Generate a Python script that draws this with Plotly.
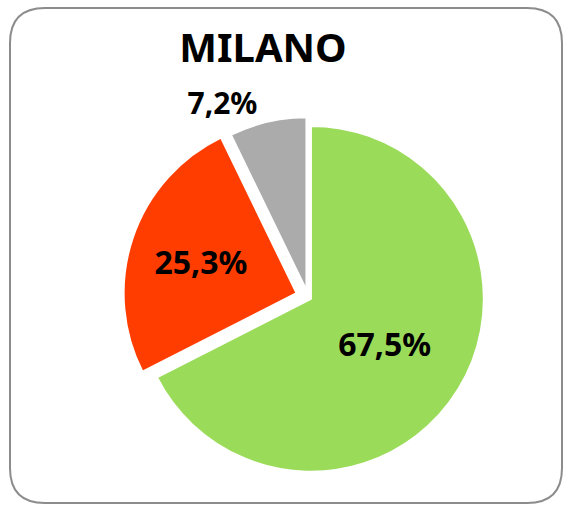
import plotly.graph_objects as go

labels = ["Sì", "No", "Non so"]
values = [67.5, 25.3, 7.2]
colors = ["#9BDB5A", "#FF3D00", "#ABABAB"]
pulls = [0.02, 0.07, 0.04]
text_positions = ["inside", "inside", "outside"]
title_text = "MILANO"

W, H = 564, 505

cx, cy, half = 308, 297, 185
fig = go.Figure(go.Pie(
    labels=labels,
    values=values,
    sort=False,
    direction="clockwise",
    rotation=0,
    pull=pulls,
    marker=dict(colors=colors, line=dict(color="white", width=2)),
    texttemplate="%{percent:.1%}",
    textposition=text_positions,
    insidetextorientation="horizontal",
    textfont=dict(family="Noto Sans", size=32, color="black", weight="bold"),
    outsidetextfont=dict(family="Noto Sans", size=30, color="black", weight="bold"),
    showlegend=False,
    hoverinfo="label+percent",
    domain=dict(x=[(cx - half) / W, (cx + half) / W],
                y=[(H - cy - half) / H, (H - cy + half) / H]),
))

# rounded frame around the chart
x0, x1, y0, y1, r = 10, 562, 8, 503, 35
def px(x):
    return x / W
def py(y):
    return (H - y) / H
path = (
    f"M {px(x0 + r)},{py(y0)} L {px(x1 - r)},{py(y0)} "
    f"Q {px(x1)},{py(y0)} {px(x1)},{py(y0 + r)} "
    f"L {px(x1)},{py(y1 - r)} Q {px(x1)},{py(y1)} {px(x1 - r)},{py(y1)} "
    f"L {px(x0 + r)},{py(y1)} Q {px(x0)},{py(y1)} {px(x0)},{py(y1 - r)} "
    f"L {px(x0)},{py(y0 + r)} Q {px(x0)},{py(y0)} {px(x0 + r)},{py(y0)} Z"
)

fig.update_layout(
    width=W, height=H,
    margin=dict(l=0, r=0, t=0, b=0),
    paper_bgcolor="white",
    plot_bgcolor="white",
    separators=",.",
    title=dict(
        text=title_text,
        x=263 / W, xanchor="center",
        y=1 - 48 / H, yanchor="middle",
        font=dict(family="Noto Sans", size=40, color="black", weight="bold"),
    ),
    shapes=[dict(type="path", path=path, xref="paper", yref="paper",
                 line=dict(color="#8C8C8C", width=2), layer="below")],
)

fig.write_html("out.html", config={"displayModeBar": False},
               post_script="document.body.style.margin='0';")
